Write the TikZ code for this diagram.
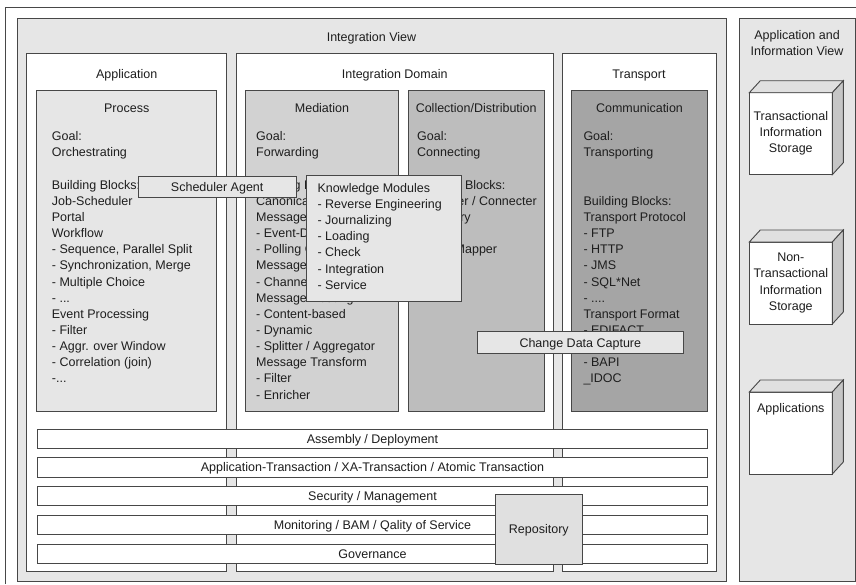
\documentclass[tikz,border=0pt]{standalone}
\usepackage{fontspec}
\setmainfont{Liberation Sans}
\definecolor{edge}{HTML}{474747}
\definecolor{ink}{HTML}{1E1E1E}
\definecolor{viewgray}{HTML}{E6E6E6}
\definecolor{topgray}{HTML}{E0E0E0}
\definecolor{medgray}{HTML}{D2D2D2}
\definecolor{collgray}{HTML}{BDBDBD}
\definecolor{commgray}{HTML}{A5A5A5}
\definecolor{sidegray}{HTML}{C6C6C6}
\tikzset{
  panel/.style={draw=edge, line width=0.9pt},
  txt/.style={text=ink, inner sep=0pt, font=\fontsize{12.5}{16.15}\selectfont},
  txtblock/.style={txt, align=left, anchor=north west},
  title/.style={txt, anchor=base},
  tagbox/.style={panel, fill=viewgray, txt, text height=9pt, text depth=0pt},
  barbox/.style={panel, fill=white, txt, text height=9pt, text depth=0pt,
    minimum width=669.6pt, minimum height=19.3pt}
}
\begin{document}
\begin{tikzpicture}[x=1pt,y=-1pt]
  \useasboundingbox (0,0) rectangle (856,584);
  \draw[edge, line width=0.9pt] (5,584) -- (5,7.5) -- (856,7.5);

  % views
  \draw[panel, fill=viewgray] (17,18) rectangle (726,581);
  \draw[panel, fill=viewgray] (739.3,18) rectangle (855,581);
  \node[title] (intview) at (371.5,41) {Integration View};
  \node[txt, align=center, anchor=north] (infoview) at (797,30.4)
    {Application and\\Information View};

  % columns
  \draw[panel, fill=white] (26.7,53.3) rectangle (226.7,571.7);
  \draw[panel, fill=white] (236,53.3) rectangle (553.3,571.7);
  \draw[panel, fill=white] (562,53.3) rectangle (716,571.7);
  \node[title] (app) at (126.7,78) {Application};
  \node[title] (intdom) at (394.7,78) {Integration Domain};
  \node[title] (transport) at (639,78) {Transport};

  \draw[panel, fill=viewgray] (36.7,90.7) rectangle (216.7,411.7);
  \draw[panel, fill=medgray] (245.7,90.7) rectangle (398.3,411.7);
  \draw[panel, fill=collgray] (408.3,90.7) rectangle (544,411.7);
  \draw[panel, fill=commgray] (571.7,90.7) rectangle (707.3,411.7);
  \node[title] (process) at (126.7,112.5) {Process};
  \node[title] (mediation) at (322,112.5) {Mediation};
  \node[title] (colldist) at (476.2,112.5) {Collection/Distribution};
  \node[title] (comm) at (639.5,112.5) {Communication};

  \node[txtblock] (proctext) at (51.7,131.4) {Goal:\\Orchestrating\\ \\Building Blocks:\\
    Job-Scheduler\\Portal\\Workflow\\- Sequence, Parallel Split\\
    - Synchronization, Merge\\- Multiple Choice\\- ...\\Event Processing\\
    - Filter\\- Aggr. over Window\\- Correlation (join)\\-...};
  \node[txtblock] (medtext) at (256,131.4) {Goal:\\Forwarding\\ \\Building Blocks:\\
    Canonical Data Model\\Message Endpoint\\- Event-Driven\\- Polling Consumer\\
    Message Channel\\- Channel Adapter\\Message Routing\\- Content-based\\
    - Dynamic\\- Splitter / Aggregator\\Message Transform\\- Filter\\- Enricher};
  \node[txtblock] (colltext) at (417,131.4) {Goal:\\Connecting\\ \\Building Blocks:\\
    - Adapter / Connecter\\- Registry\\ \\- Data Mapper};
  \node[txtblock] (commtext) at (583.3,131.4) {Goal:\\Transporting\\ \\ \\
    Building Blocks:\\Transport Protocol\\- FTP\\- HTTP\\- JMS\\- SQL*Net\\- ....\\
    Transport Format\\- EDIFACT\\ \\- BAPI\\\_IDOC};

  % overlays
  \node[tagbox, minimum width=157.7pt, minimum height=21.3pt] (sched)
    at (217.2,186.7) {Scheduler Agent};
  \draw[panel, fill=viewgray] (306,175) rectangle (461.7,301);
  \node[txtblock] (kmtext) at (317.3,183) {Knowledge Modules\\- Reverse Engineering\\
    - Journalizing\\- Loading\\- Check\\- Integration\\- Service};
  \node[tagbox, minimum width=206pt, minimum height=21.6pt] (cdc)
    at (580.3,342.5) {Change Data Capture};

  \foreach \t [count=\i from 0] in {Assembly / Deployment,
      Application-Transaction / XA-Transaction / Atomic Transaction,
      Security / Management, Monitoring / BAM / Qality of Service, Governance}
  {
    \pgfmathsetmacro{\y}{438.7 + \i*28.75}
    \node[barbox] (bar\i) at (372.5,\y) {\t};
  }
  \node[tagbox, fill=topgray, minimum width=87pt, minimum height=70.3pt] (repo)
    at (538.8,529.2) {Repository};

  % storage cubes
  \foreach \y in {92.7,242,392}
  {
    \draw[panel, fill=white] (749.3,\y) rectangle ++(83,82);
    \draw[panel, fill=topgray] (749.3,\y) -- ++(11,-12) -- ++(83,0) -- ++(-11,12) -- cycle;
    \draw[panel, fill=sidegray] (832.3,\y) -- ++(11,-12) -- ++(0,82) -- ++(-11,12) -- cycle;
  }
  \node[txt, align=center] (tis) at (790.8,133.4) {Transactional\\Information\\Storage};
  \node[txt, align=center] (ntis) at (790.8,283) {Non-\\Transactional\\Information\\Storage};
  \node[title] (apps) at (790.8,412.5) {Applications};
\end{tikzpicture}
\end{document}
